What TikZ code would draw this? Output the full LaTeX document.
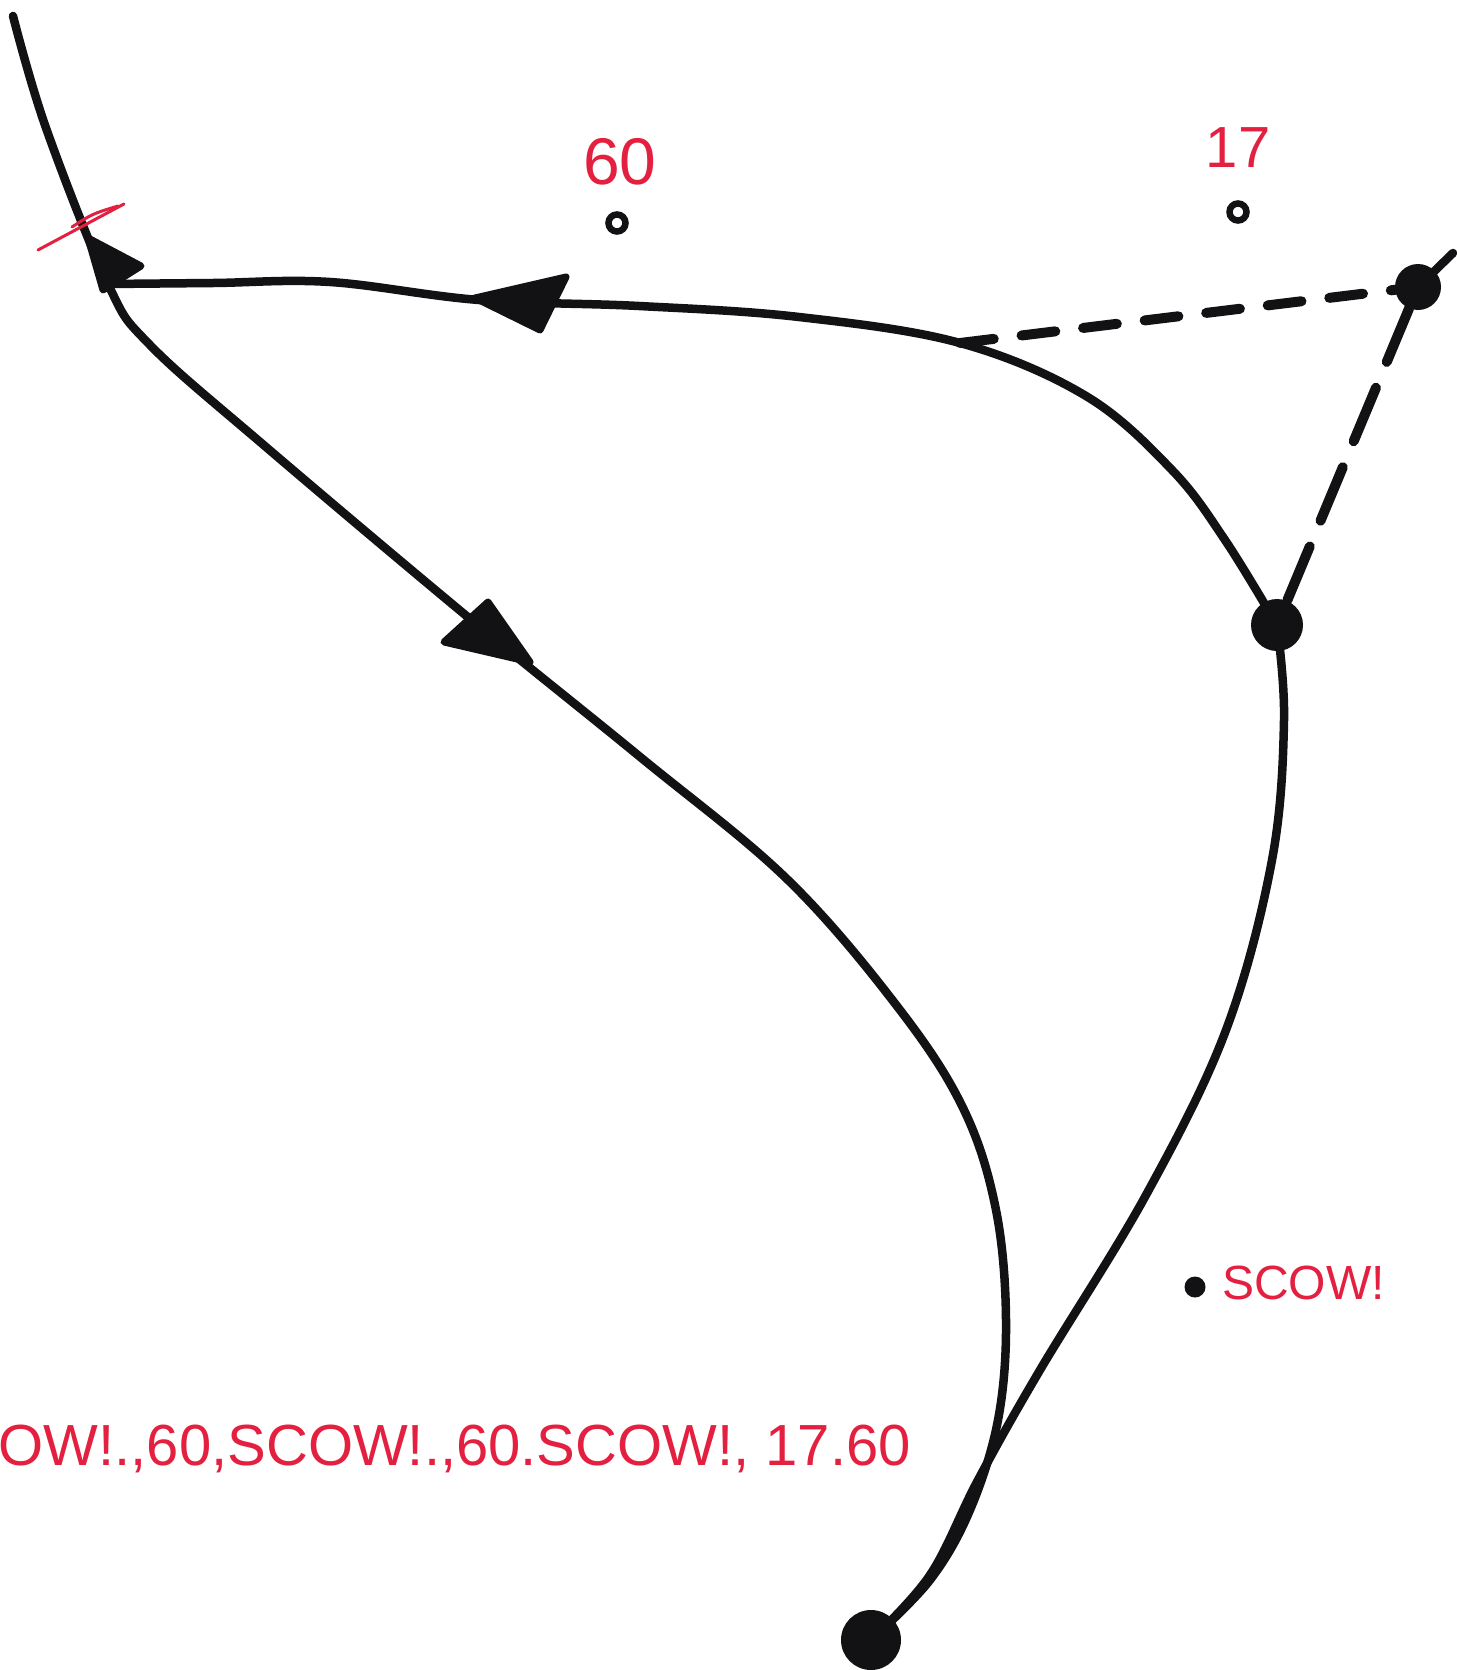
\documentclass[tikz,border=0pt]{standalone}
\usepackage{fontspec}
\setmainfont{Liberation Sans}
\definecolor{pen}{RGB}{18,18,20}
\definecolor{redpen}{RGB}{228,32,64}
\pgfdeclarelayer{bg}
\pgfsetlayers{bg,main}
\begin{document}
\begin{tikzpicture}[x=1pt,y=-1pt,
  stroke/.style={draw=pen, line width=8.5pt, line cap=round, line join=round},
  dashstroke/.style={stroke, line width=10pt},
  bigdot/.style={circle, fill=pen, inner sep=0pt},
  hollow/.style={circle, draw=pen, line width=6.5pt, minimum size=17pt, inner sep=0pt},
  smalldot/.style={circle, fill=pen, inner sep=0pt, minimum size=21pt},
  tip/.style={fill=pen, draw=pen, line width=7pt, line join=round},
  lbl/.style={text=redpen, inner sep=0pt},
  strike/.style={draw=redpen, line width=3pt, line cap=round}
]
\useasboundingbox (0,0) rectangle (1456,1670);
\clip (0,0) rectangle (1456,1670);

% points and dots
\node[bigdot, minimum size=52pt] (A) at (1277,625) {};
\node[bigdot, minimum size=46pt] (B) at (1418,287) {};
\node[bigdot, minimum size=60pt] (C) at (871,1640) {};
\coordinate (T) at (13,16);
\coordinate (J) at (108,284);
\coordinate (D) at (960,343);
\coordinate (E) at (1453,253);
\node[hollow] (p60) at (617,223) {};
\node[hollow] (p17) at (1238,212) {};
\node[smalldot] (ps) at (1195,1287) {};

\begin{pgfonlayer}{bg}
\fill[white] (0,0) rectangle (1456,1670);
% long curve: top-left through junction, down to bottom dot
\draw[stroke] plot[smooth, tension=0.6] coordinates {(T) (46,128) (J) (150,345) (266,447) (469,618) (639,756) (788,880) (900,1010) (964,1110) (996,1210) (1006,1320) (998,1420) (970,1510) (930,1580) (C.center)};
% upper curve: A to junction
\draw[stroke] plot[smooth, tension=0.6] coordinates {(A.center) (1225,540) (1172,470) (1086,396) (D) (799,317) (639,306) (479,300) (330,282) (213,283) (J)};
% right curve: A to bottom dot
\draw[stroke] plot[smooth, tension=0.6] coordinates {(A.center) (1284,720) (1272,860) (1226,1030) (1146,1195) (1040,1370) (978,1480) (930,1575) (C.center)};
% dashed lines
\draw[dashstroke, dash pattern=on 34pt off 28pt] (D) -- (B);
\draw[dashstroke, dash pattern=on 58pt off 28pt] (B) -- (A);
\draw[stroke] (B) -- (E);
\end{pgfonlayer}

% arrowheads
\filldraw[tip] (475,298) -- (566,277) -- (540,330) -- cycle;
\filldraw[tip] (530,662) -- (444,642) -- (488,602) -- cycle;
\filldraw[tip] (88,238) -- (141,266) -- (103,290) -- cycle;

% red strike mark
\draw[strike] (38,250) -- (124,204);
\draw[strike] (72,227) .. controls (92,214) .. (118,206);

% labels
\node[lbl, font=\fontsize{66}{70}\selectfont] (l60) at (620,162) {60};
\node[lbl, font=\fontsize{58}{60}\selectfont] (l17) at (1238,148) {17};
\node[lbl, font=\fontsize{48}{50}\selectfont, anchor=west] (ls) at (1222,1283) {SCOW!};
\node[lbl, font=\fontsize{58}{60}\selectfont, anchor=base east] (seq) at (911,1465) {OW!.,60,SCOW!.,60.SCOW!, 17.60};
\end{tikzpicture}
\end{document}
